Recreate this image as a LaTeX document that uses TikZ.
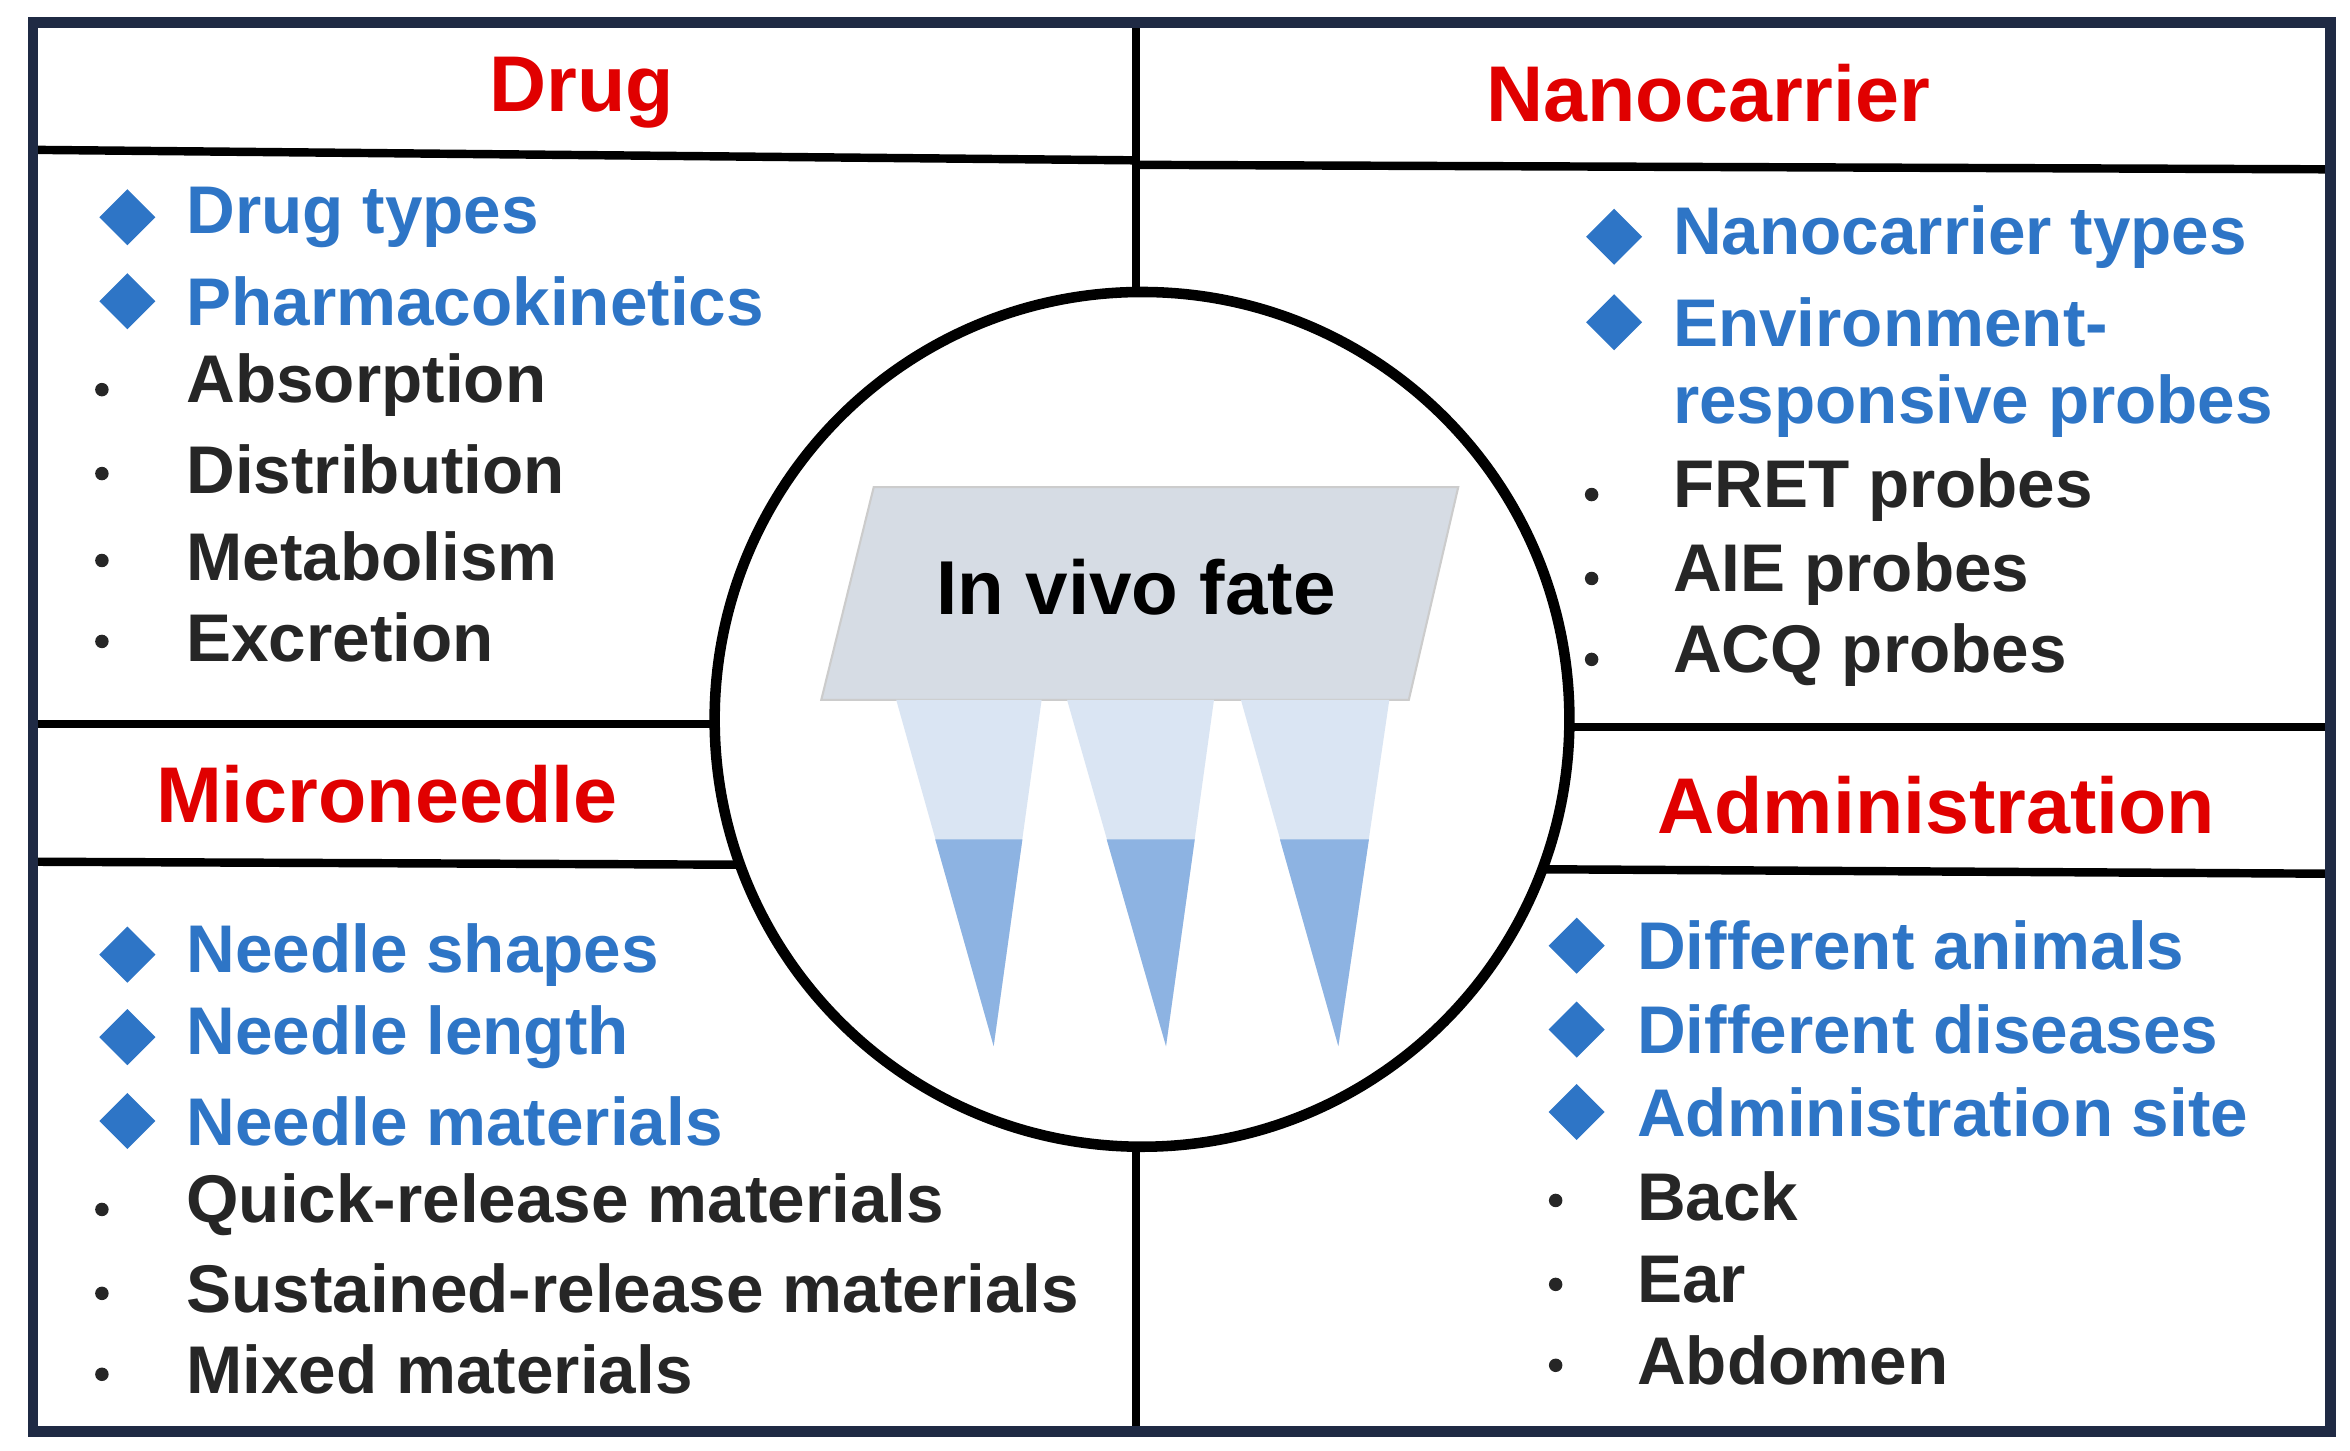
\documentclass[tikz,border=0pt]{standalone}
\usepackage{fontspec}
\setmainfont{Liberation Sans}
\usetikzlibrary{shapes.geometric}
\definecolor{hdred}{HTML}{E00000}
\definecolor{itblue}{HTML}{2E75C6}
\definecolor{frame}{HTML}{1F2A44}
\definecolor{platef}{HTML}{D6DCE4}
\definecolor{ndlight}{HTML}{DAE5F3}
\definecolor{nddark}{HTML}{8DB3E2}
\tikzset{
  header/.style={font=\bfseries\fontsize{15}{18}\selectfont, text=hdred},
  topic/.style={font=\bfseries\fontsize{12.8}{15}\selectfont, text=itblue, anchor=west},
  sub/.style={font=\bfseries\fontsize{12.8}{15}\selectfont, text=black!85, anchor=west},
  dia/.style={diamond, fill=itblue, inner sep=0pt, minimum size=0.38cm},
  dot/.style={circle, fill=black!85, inner sep=0pt, minimum size=0.09cm},
  rule/.style={line width=1.6pt, black}
}
\begin{document}
\begin{tikzpicture}[x=0.01cm,y=-0.01cm]
\useasboundingbox (0,0) rectangle (1568,968);
% frame and dividers
\draw[rule] (758,15) -- (758,200);
\draw[rule] (758,760) -- (758,955);
\draw[rule] (22,100) -- (758,107);
\draw[rule] (758,110) -- (1555,113);
\draw[rule] (22,483) -- (485,483);
\draw[rule] (1040,485) -- (1555,485);
\draw[rule] (22,575) -- (495,577);
\draw[rule] (1025,580) -- (1555,583);
\draw[line width=2pt, frame] (22,15) rectangle (1555,955);
% centre
\node[circle, draw, line width=2pt, fill=white, minimum size=5.7cm] (fate) at (762,480) {};
\filldraw[fill=platef, draw=black!20] (583,325) -- (973,325) -- (940,467) -- (548,467) -- cycle;
\node[font=\bfseries\fontsize{14.5}{17}\selectfont] (plate) at (758,392) {In vivo fate};
\foreach \l/\r/\t in {598/695/663, 712/810/778, 828/927/893}{
  \fill[ndlight] (\l,467) -- (\r,467) -- (\t,698) -- cycle;
  \fill[nddark] ({\l+(\t-\l)*0.4},560) -- ({\r+(\t-\r)*0.4},560) -- (\t,698) -- cycle;
}
% headers
\node[header] (hdrug) at (388,62) {Drug};
\node[header] (hnano) at (1140,62) {Nanocarrier};
\node[header] (hmicro) at (258,530) {Microneedle};
\node[header] (hadmin) at (1292,537) {Administration};
% drug
\foreach \y/\t in {145/Drug types, 201/Pharmacokinetics}{
  \node[dia] at (85,\y) {}; \node[topic] at (112,\y) {\t};}
\foreach \y/\t in {257/Absorption, 313/Distribution, 371/Metabolism, 425/Excretion}{
  \node[dot] at (68,\y+3) {}; \node[sub] at (112,\y) {\t};}
% nanocarrier
\foreach \y/\t in {158/Nanocarrier types, 215/Environment-}{
  \node[dia] at (1077,\y) {}; \node[topic] at (1104,\y) {\t};}
\node[topic] at (1104,271) {responsive probes};
\foreach \y/\t in {327/FRET probes, 383/AIE probes, 437/ACQ probes}{
  \node[dot] at (1062,\y+3) {}; \node[sub] at (1104,\y) {\t};}
% microneedle
\foreach \y/\t in {637/Needle shapes, 692/Needle length, 748/Needle materials}{
  \node[dia] at (85,\y) {}; \node[topic] at (112,\y) {\t};}
\foreach \y/\t in {804/Quick-release materials, 860/Sustained-release materials, 914/Mixed materials}{
  \node[dot] at (68,\y+3) {}; \node[sub] at (112,\y) {\t};}
% administration
\foreach \y/\t in {631/Different animals, 687/Different diseases, 742/Administration site}{
  \node[dia] at (1052,\y) {}; \node[topic] at (1080,\y) {\t};}
\foreach \y/\t in {798/Back, 854/Ear, 908/Abdomen}{
  \node[dot] at (1038,\y+3) {}; \node[sub] at (1080,\y) {\t};}
\end{tikzpicture}
\end{document}
